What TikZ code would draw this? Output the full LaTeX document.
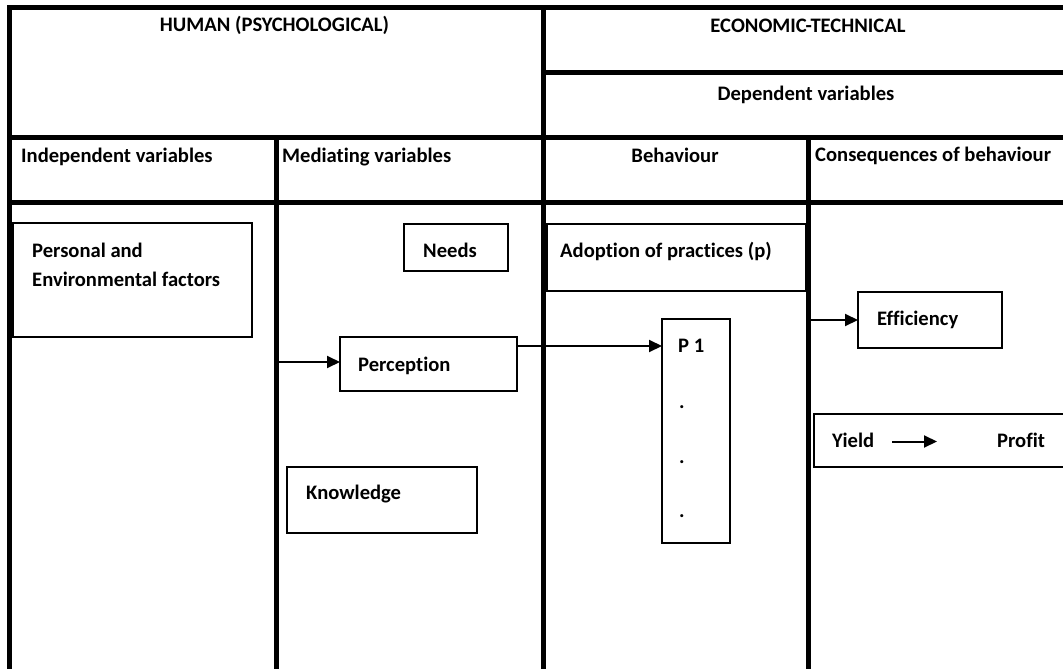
\documentclass[tikz,border=0pt]{standalone}
\usepackage{fontspec}
\setmainfont{Carlito}[Ligatures=NoCommon]
\usetikzlibrary{arrows.meta}
\begin{document}
\begin{tikzpicture}[x=1pt,y=-1pt,
  tline/.style={line width=5pt},
  box/.style={draw, line width=1.6pt, inner sep=0pt, outer sep=0pt, anchor=north west},
  lbl/.style={anchor=base west, inner sep=0pt, font=\bfseries\fontsize{20.6}{25}\selectfont},
  clbl/.style={anchor=base, inner sep=0pt, font=\bfseries\fontsize{20.6}{25}\selectfont},
  arr/.style={line width=2pt, -{Triangle[length=13pt,width=12pt]}}]
\useasboundingbox (0,0) rectangle (1063,669);
\begin{scope}
\clip (0,0) rectangle (1063,669);
% table frame
\draw[tline] (9.5,680) -- (9.5,7.5) -- (1080,7.5);
\draw[tline] (543,7.5) -- (543,680);
\draw[tline] (543,72.5) -- (1080,72.5);
\draw[tline] (9.5,137.5) -- (1080,137.5);
\draw[tline] (9.5,202.5) -- (1080,202.5);
\draw[tline] (276.5,137.5) -- (276.5,680);
\draw[tline] (808.5,137.5) -- (808.5,680);
% boxes
\node[box, minimum width=239pt, minimum height=114pt] (pers) at (13,223) {};
\node[box, minimum width=104pt, minimum height=47pt] (needs) at (404,224) {};
\node[box, minimum width=259pt, minimum height=67pt] (adopt) at (547,224) {};
\node[box, minimum width=177pt, minimum height=54pt] (perc) at (340,337) {};
\node[box, minimum width=68pt, minimum height=224pt] (p1) at (662,319) {};
\node[box, minimum width=144pt, minimum height=56pt] (eff) at (858,292) {};
\node[box, minimum width=270pt, minimum height=53pt] (yb) at (814,414) {};
\node[box, minimum width=190pt, minimum height=66pt] (know) at (287,467) {};
\end{scope}
% header texts
\node[clbl] (hum) at (274.5,32) {HUMAN (PSYCHOLOGICAL)};
\node[clbl] (eco) at (808,33) {ECONOMIC-TECHNICAL};
\node[clbl] (dep) at (806,100) {Dependent variables};
\node[lbl] (ind) at (21,162) {Independent variables};
\node[lbl] (med) at (282,162) {Mediating variables};
\node[clbl] (beh) at (675,162) {Behaviour};
\node[lbl] (cons) at (815,161) {Consequences of behaviour};
% box texts
\node[lbl] (pers1) at (32,257) {Personal and};
\node[lbl] (pers2) at (32,286) {Environmental factors};
\node[lbl] (needst) at (423,257) {Needs};
\node[lbl] (adoptt) at (560,257) {Adoption of practices (p)};
\node[lbl] (perct) at (358,371) {Perception};
\node[lbl] (p1t) at (678,352) {P 1};
\node[lbl] (d1) at (679,408) {.};
\node[lbl] (d2) at (679,463) {.};
\node[lbl] (d3) at (679,517) {.};
\node[lbl] (efft) at (877,325) {Efficiency};
\node[lbl] (yield) at (832,447) {Yield};
\node[lbl] (profit) at (997,447) {Profit};
\node[lbl] (knowt) at (306,499) {Knowledge};
% connectors
\coordinate (inl) at (278.5,362);
\draw[arr] (inl) -- (inl -| perc.west);
\coordinate (pout) at ([yshift=-9pt]perc.north east);
\draw[arr] (pout) -- (pout -| p1.west);
\coordinate (ein) at (811,320);
\draw[arr] (ein) -- (eff.west);
\coordinate (ya) at (892,441.5);
\coordinate (yz) at (937,441.5);
\draw[arr] (ya) -- (yz);
\end{tikzpicture}
\end{document}
